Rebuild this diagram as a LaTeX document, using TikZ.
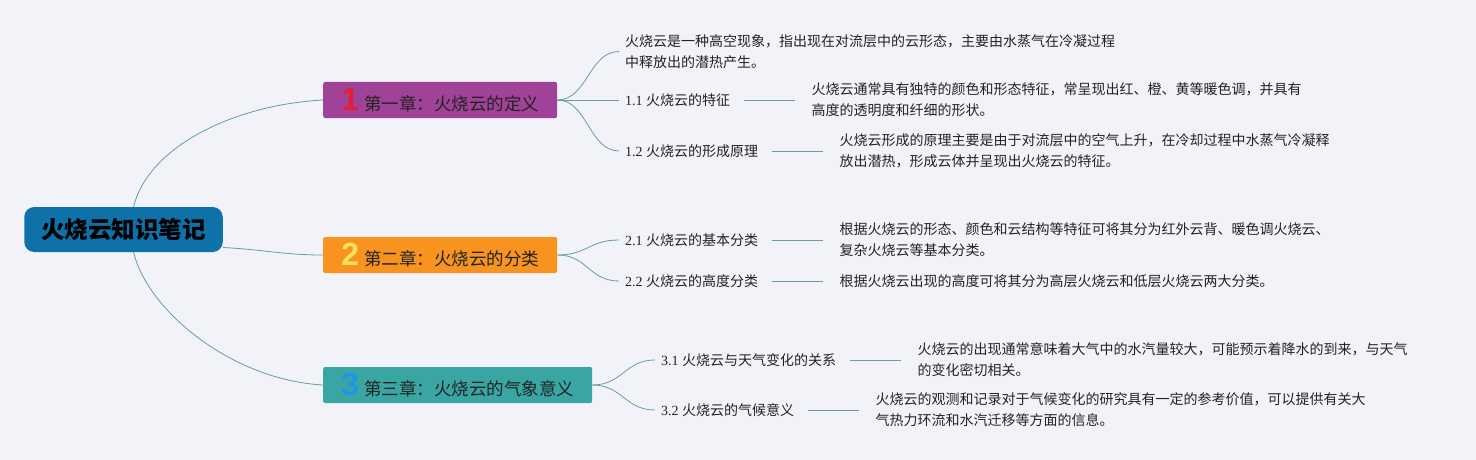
\documentclass[tikz,border=0pt]{standalone}
\usepackage{fontspec}
\setmainfont{Liberation Serif}
\newfontfamily\cjk{Noto Sans CJK SC}
\newfontfamily\numfont{Liberation Sans}
\usetikzlibrary{positioning}
\definecolor{paper}{RGB}{242,243,248}
\definecolor{rootblue}{RGB}{14,113,168}
\definecolor{chpurple}{RGB}{160,66,152}
\definecolor{chorange}{RGB}{247,147,30}
\definecolor{chteal}{RGB}{58,166,163}
\definecolor{numred}{RGB}{230,30,50}
\definecolor{numyellow}{RGB}{250,225,90}
\definecolor{numblue}{RGB}{30,150,225}
\definecolor{linkteal}{RGB}{100,160,158}
\definecolor{textdark}{RGB}{35,35,35}
\newcommand{\chapnum}[2]{\makebox[18pt][c]{\numfont\bfseries\fontsize{32}{32}\selectfont\color{#1}#2}\hspace{5pt}}

\begin{document}
\begin{tikzpicture}[x=1pt, y=-1pt,
    rootbox/.style={rectangle, fill=rootblue, rounded corners=10pt, minimum height=45pt, inner xsep=17pt, font=\cjk\bfseries\fontsize{23.5}{28}\selectfont, text=black},
    chapter/.style={rectangle, rounded corners=2pt, minimum height=36pt, inner xsep=18pt, inner ysep=0pt, anchor=west, font=\cjk\fontsize{17.5}{20}\selectfont, text=textdark},
    topic/.style={anchor=west, inner xsep=6pt, font=\fontsize{14}{16}\selectfont, text=textdark},
    detail/.style={inner xsep=6pt, align=left, font=\cjk\fontsize{14}{21}\selectfont, text=textdark},
    branch/.style={draw=linkteal, line width=0.8pt},
    stem/.style={draw=linkteal, line width=0.8pt, shorten <=8pt, shorten >=10pt}
]
\useasboundingbox[fill=paper] (0,0) rectangle (1476,460);
% root
\node[rootbox] (root) at (123.5,229.5) {火烧云知识笔记};
% chapters
\node[chapter, fill=chpurple] (ch1) at (323,100) {\chapnum{numred}{1}第一章：火烧云的定义};
\node[chapter, fill=chorange] (ch2) at (323,255) {\chapnum{numyellow}{2}第二章：火烧云的分类};
\node[chapter, fill=chteal] (ch3) at (323,385) {\chapnum{numblue}{3}第三章：火烧云的气象意义};
% topics
\node[detail, anchor=west] (d10) at (619,51.5) {火烧云是一种高空现象，指出现在对流层中的云形态，主要由水蒸气在冷凝过程\\中释放出的潜热产生。};
\node[topic] (s11) at (619,100) {1.1 {\cjk 火烧云的特征}};
\node[topic] (s12) at (619,151) {1.2 {\cjk 火烧云的形成原理}};
\node[topic] (s21) at (619,240) {2.1 {\cjk 火烧云的基本分类}};
\node[topic] (s22) at (619,281) {2.2 {\cjk 火烧云的高度分类}};
\node[topic] (s31) at (655,360) {3.1 {\cjk 火烧云与天气变化的关系}};
\node[topic] (s32) at (655,410) {3.2 {\cjk 火烧云的气候意义}};
% details
\node[detail, right=69pt of s11] (d11) {火烧云通常具有独特的颜色和形态特征，常呈现出红、橙、黄等暖色调，并具有\\高度的透明度和纤细的形状。};
\node[detail, right=69pt of s12] (d12) {火烧云形成的原理主要是由于对流层中的空气上升，在冷却过程中水蒸气冷凝释\\放出潜热，形成云体并呈现出火烧云的特征。};
\node[detail, right=69pt of s21] (d21) {根据火烧云的形态、颜色和云结构等特征可将其分为红外云背、暖色调火烧云、\\复杂火烧云等基本分类。};
\node[detail, right=69pt of s22] (d22) {根据火烧云出现的高度可将其分为高层火烧云和低层火烧云两大分类。};
\node[detail, right=69pt of s31] (d31) {火烧云的出现通常意味着大气中的水汽量较大，可能预示着降水的到来，与天气\\的变化密切相关。};
\node[detail, right=69pt of s32] (d32) {火烧云的观测和记录对于气候变化的研究具有一定的参考价值，可以提供有关大\\气热力环流和水汽迁移等方面的信息。};
% branches
\draw[branch] ([xshift=10pt]root.north) .. controls +(15,-60) and +(-90,5) .. (ch1.west);
\draw[branch] ([yshift=-18pt]root.east) .. controls +(40,2) and +(-40,0) .. (ch2.west);
\draw[branch] ([xshift=10pt]root.south) .. controls +(15,60) and +(-90,-5) .. (ch3.west);
\foreach \c/\t in {ch1/d10, ch1/s11, ch1/s12, ch2/s21, ch2/s22, ch3/s31, ch3/s32}
    \draw[branch] (\c.east) .. controls +(30,0) and +(-30,0) .. (\t.west);
\foreach \s/\d in {s11/d11, s12/d12, s21/d21, s22/d22, s31/d31, s32/d32}
    \draw[stem] (\s) -- (\d);
\end{tikzpicture}
\end{document}
